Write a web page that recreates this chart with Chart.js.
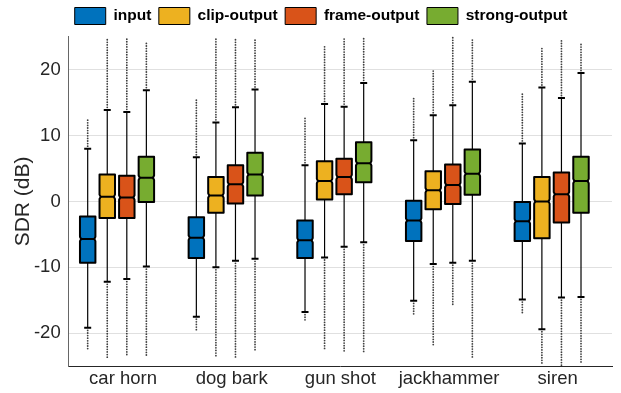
<!DOCTYPE html>
<html>
<head>
<meta charset="utf-8">
<script src="https://cdn.jsdelivr.net/npm/chart.js@4.4.1/dist/chart.umd.min.js"></script>
<style>
  html, body { margin: 0; padding: 0; background: #fff; }
  #wrap { width: 621px; height: 393px; }
</style>
</head>
<body>
<div id="wrap"><canvas id="boxChart"></canvas></div>
<script>
const categories = ["car horn", "dog bark", "gun shot", "jackhammer", "siren"];
const seriesNames = ["input", "clip-output", "frame-output", "strong-output"];
const seriesColors = ["#0072BD", "#EDB120", "#D95319", "#77AC30"];
const yTicks = [-20, -10, 0, 10, 20];

// one row per series (input, clip, frame, strong), one value per category, in dB
const q1 = [
  [-9.3, -8.6, -8.6, -6.0, -6.0],
  [-2.5, -1.7, 0.3, -1.2, -5.6],
  [-2.5, -0.3, 1.1, -0.4, -3.2],
  [-0.1, 0.9, 2.9, 1.0, -1.7]
];
const q3 = [
  [-2.3, -2.4, -2.9, 0.1, -0.1],
  [4.1, 3.7, 6.1, 4.6, 3.7],
  [3.9, 5.5, 6.5, 5.6, 4.4],
  [6.8, 7.4, 9.0, 7.9, 6.8]
];
const medians = [
  [-5.7, -5.5, -5.9, -2.9, -3.0],
  [0.7, 0.9, 3.1, 1.7, 0.0],
  [0.6, 2.6, 3.7, 2.5, 1.1],
  [3.6, 4.1, 5.8, 4.2, 3.1]
];
const whiskerHi = [
  [8.0, 6.7, 5.5, 9.3, 8.8],
  [13.9, 12.0, 14.8, 13.1, 17.3],
  [13.6, 14.3, 14.4, 14.6, 15.7],
  [16.9, 17.0, 18.0, 18.2, 19.5]
];
const whiskerLo = [
  [-19.2, -17.5, -16.8, -15.1, -14.9],
  [-12.2, -10.0, -8.5, -9.5, -19.4],
  [-11.8, -9.0, -6.9, -9.3, -14.6],
  [-9.9, -8.7, -6.2, -9.0, -14.5]
];
// furthest outlier above / below the whiskers
const outlierMax = [
  [12.7, 15.5, 12.7, 15.8, 16.6],
  [24.9, 24.8, 23.7, 19.9, 23.5],
  [25.0, 24.8, 25.0, 24.9, 24.4],
  [24.4, 24.9, 25.0, 24.9, 23.9]
];
const outlierMin = [
  [-22.5, -19.5, -18.0, -17.2, -17.2],
  [-23.7, -23.7, -22.5, -22.1, -24.7],
  [-23.3, -23.7, -23.0, -15.7, -25.0],
  [-23.7, -22.8, -23.0, -23.7, -24.7]
];

const FONT = "'Liberation Sans', Arial, Helvetica, sans-serif";
const BOX_SHIFT = -6;   // matlab draws the groups a bit left of the tick
const DOT_GAP = 2.6;

// draws notched boxes, whiskers and outliers on top of the (hidden) floating bars
const boxPlotDraw = {
  id: "boxPlotDraw",
  beforeDatasetDraw() {
    return false;
  },
  afterDatasetsDraw(chart) {
    const ctx = chart.ctx;
    const y = chart.scales.y;
    const area = chart.chartArea;
    ctx.save();
    ctx.beginPath();
    ctx.rect(area.left, area.top - 1, area.right - area.left, area.bottom - area.top + 1);
    ctx.clip();
    chart.data.datasets.forEach((ds, i) => {
      const meta = chart.getDatasetMeta(i);
      meta.data.forEach((bar, j) => {
        const x = bar.x + BOX_SHIFT;
        const half = bar.width / 2;
        const pQ1 = y.getPixelForValue(q1[i][j]);
        const pQ3 = y.getPixelForValue(q3[i][j]);
        const pMed = y.getPixelForValue(medians[i][j]);
        const pHi = y.getPixelForValue(whiskerHi[i][j]);
        const pLo = y.getPixelForValue(whiskerLo[i][j]);
        const pOMax = y.getPixelForValue(outlierMax[i][j]);
        const pOMin = y.getPixelForValue(outlierMin[i][j]);

        // outliers
        ctx.fillStyle = "rgba(30,30,30,0.85)";
        for (let p = pHi - DOT_GAP; p >= pOMax; p -= DOT_GAP) {
          ctx.beginPath();
          ctx.arc(x, p, 0.9, 0, Math.PI * 2);
          ctx.fill();
        }
        for (let p = pLo + DOT_GAP; p <= pOMin; p += DOT_GAP) {
          ctx.beginPath();
          ctx.arc(x, p, 0.9, 0, Math.PI * 2);
          ctx.fill();
        }

        // whiskers
        ctx.strokeStyle = "#000";
        ctx.lineWidth = 1.2;
        ctx.beginPath();
        ctx.moveTo(x, pQ3);
        ctx.lineTo(x, pHi);
        ctx.moveTo(x, pQ1);
        ctx.lineTo(x, pLo);
        ctx.stroke();
        ctx.lineWidth = 2;
        ctx.beginPath();
        ctx.moveTo(x - 3.5, pHi);
        ctx.lineTo(x + 3.5, pHi);
        ctx.moveTo(x - 3.5, pLo);
        ctx.lineTo(x + 3.5, pLo);
        ctx.stroke();

        // notched box (notch is tiny, lots of samples)
        const n = 2.2, inset = 1.1;
        ctx.beginPath();
        ctx.moveTo(x - half, pQ3);
        ctx.lineTo(x + half, pQ3);
        ctx.lineTo(x + half, pMed - n);
        ctx.lineTo(x + half - inset, pMed);
        ctx.lineTo(x + half, pMed + n);
        ctx.lineTo(x + half, pQ1);
        ctx.lineTo(x - half, pQ1);
        ctx.lineTo(x - half, pMed + n);
        ctx.lineTo(x - half + inset, pMed);
        ctx.lineTo(x - half, pMed - n);
        ctx.closePath();
        ctx.fillStyle = seriesColors[i];
        ctx.fill();
        ctx.lineWidth = 2;
        ctx.lineJoin = "round";
        ctx.stroke();

        // median
        ctx.lineWidth = 2;
        ctx.beginPath();
        ctx.moveTo(x - half + inset, pMed);
        ctx.lineTo(x + half - inset, pMed);
        ctx.stroke();
      });
    });
    ctx.restore();
  }
};

const ctxBox = document.getElementById("boxChart").getContext("2d");

new Chart(ctxBox, {
  type: "bar",
  data: {
    labels: categories,
    datasets: seriesNames.map((name, i) => ({
      label: name,
      data: categories.map((c, j) => [q1[i][j], q3[i][j]]),
      backgroundColor: seriesColors[i],
      borderColor: "#000",
      borderWidth: 1,
      categoryPercentage: 0.72,
      barPercentage: 0.79
    }))
  },
  options: {
    responsive: true,
    maintainAspectRatio: false,
    animation: false,
    layout: {
      padding: { top: 0, left: 30, right: 9, bottom: 0 }
    },
    plugins: {
      legend: {
        position: "top",
        labels: {
          boxWidth: 31,
          boxHeight: 17,
          padding: 7.5,
          color: "#000",
          font: { size: 15.5, weight: "bold", family: FONT }
        }
      },
      // empty spacer between legend and plot
      subtitle: {
        display: true,
        text: "",
        weight: 500,
        padding: 0,
        font: { size: 2 }
      },
      tooltip: { enabled: false }
    },
    scales: {
      x: {
        grid: { display: false, drawTicks: false },
        border: { display: true, color: "#262626", width: 1 },
        ticks: {
          color: "#262626",
          font: { size: 18.5, family: FONT },
          padding: 2,
          maxRotation: 0
        },
        afterFit: (scale) => { scale.height = 27; }
      },
      y: {
        min: -25,
        max: 25,
        afterBuildTicks: (scale) => {
          scale.ticks = yTicks.map(v => ({ value: v }));
        },
        grid: { color: "rgba(0,0,0,0.12)", drawTicks: false },
        border: { color: "#666", width: 1 },
        ticks: {
          color: "#262626",
          font: { size: 18.5, family: FONT },
          padding: 8
        },
        title: {
          display: true,
          text: "SDR (dB)",
          color: "#262626",
          font: { size: 21, family: FONT },
          padding: { top: -19.6, bottom: 0 }
        },
        afterFit: (scale) => { scale.width = 38.7; }
      }
    }
  },
  plugins: [boxPlotDraw]
});
</script>
</body>
</html>
